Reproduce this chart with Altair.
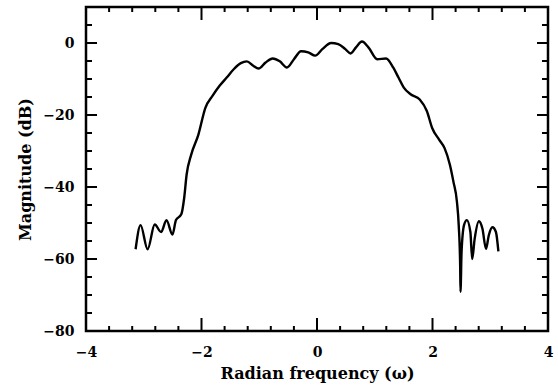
import altair as alt
import pandas as pd

# Curve samples (radian frequency, magnitude dB)
freq = [-3.141, -3.055, -2.933, -2.810, -2.699, -2.607, -2.503, -2.442, -2.350, -2.301,
        -2.258, -2.178, -2.055, -1.933, -1.810, -1.687, -1.564, -1.442, -1.319, -1.215,
        -1.104, -1.012, -0.890, -0.767, -0.644, -0.521, -0.399, -0.276, -0.153, -0.031,
        0.092, 0.245, 0.368, 0.491, 0.583, 0.675, 0.779, 0.890, 1.043, 1.196,
        1.319, 1.411, 1.503, 1.626, 1.779, 1.902, 1.994, 2.117, 2.209, 2.301,
        2.362, 2.423, 2.454, 2.479, 2.485, 2.503, 2.546, 2.595, 2.656, 2.687,
        2.730, 2.804, 2.865, 2.926, 2.975, 3.037, 3.098, 3.141]
mag = [-57.3, -50.6, -57.3, -50.4, -52.5, -49.2, -53.2, -49.2, -47.6, -43.2,
       -36.6, -31.0, -25.5, -18.0, -14.7, -11.9, -9.6, -7.3, -5.6, -5.1,
       -6.3, -7.1, -5.4, -4.3, -5.1, -6.8, -4.5, -2.3, -2.6, -3.5,
       -1.7, 0.0, -0.3, -1.7, -2.9, -1.2, 0.4, -1.2, -4.5, -4.3,
       -6.8, -9.6, -12.4, -14.3, -15.7, -18.9, -23.6, -26.9, -29.2, -33.8,
       -38.5, -44.1, -50.6, -61.8, -69.1, -58.1, -50.6, -49.2, -52.5, -60.0,
       -54.4, -49.5, -51.6, -57.2, -53.4, -51.2, -52.5, -57.9]

x_major = [-4, -2, 0, 2, 4]
x_minor = [-3.6, -3.2, -2.8, -2.4, -1.6, -1.2, -0.8, -0.4, 0.4, 0.8, 1.2, 1.6, 2.4, 2.8, 3.2, 3.6]
y_major = [-80, -60, -40, -20, 0]
y_minor = [-75, -70, -65, -55, -50, -45, -35, -30, -25, -15, -10, -5, 5]

W, H = 462, 324
FONT = "DejaVu Serif"

xscale = alt.Scale(domain=[-4, 4], nice=False, zero=False)
yscale = alt.Scale(domain=[-80, 10], nice=False, zero=False)

df = pd.DataFrame({"w": freq, "m": mag})

line = alt.Chart(df).mark_line(color="black", strokeWidth=2.4, interpolate="monotone").encode(
    x=alt.X("w:Q", scale=xscale,
            axis=alt.Axis(values=x_major, format="d", title="Radian frequency (ω)", grid=False,
                          ticks=False, domain=False, labelFont=FONT, labelFontWeight="bold",
                          labelFontSize=14, labelColor="black", labelPadding=14, titleFont=FONT,
                          titleFontWeight="bold", titleFontSize=16, titleColor="black",
                          titlePadding=6, labelFlush=False)),
    y=alt.Y("m:Q", scale=yscale,
            axis=alt.Axis(values=y_major, format="d", title="Magnitude (dB)", grid=False,
                          ticks=False, domain=False, labelFont=FONT, labelFontWeight="bold",
                          labelFontSize=14, labelColor="black", labelPadding=12, titleFont=FONT,
                          titleFontWeight="bold", titleFontSize=16, titleColor="black",
                          titlePadding=9, labelFlush=False)),
)


def xticks(vals, length):
    d = pd.DataFrame({"t": vals})
    bottom = alt.Chart(d).mark_rule(color="black", strokeWidth=2).encode(
        x=alt.X("t:Q", scale=xscale), y=alt.value(H), y2=alt.value(H - length))
    top = alt.Chart(d).mark_rule(color="black", strokeWidth=2).encode(
        x=alt.X("t:Q", scale=xscale), y=alt.value(0), y2=alt.value(length))
    return [bottom, top]


def yticks(vals, length):
    d = pd.DataFrame({"t": vals})
    left = alt.Chart(d).mark_rule(color="black", strokeWidth=2).encode(
        y=alt.Y("t:Q", scale=yscale), x=alt.value(0), x2=alt.value(length))
    right = alt.Chart(d).mark_rule(color="black", strokeWidth=2).encode(
        y=alt.Y("t:Q", scale=yscale), x=alt.value(W), x2=alt.value(W - length))
    return [left, right]


layers = [line] + xticks(x_major, 13) + xticks(x_minor, 5) + yticks(y_major, 11) + yticks(y_minor, 6)

chart = alt.layer(*layers).properties(
    width=W, height=H,
    autosize=alt.AutoSizeParams(type="none"),
    padding={"left": 86, "top": 7, "right": 10, "bottom": 60},
    background="white",
).configure_view(stroke="black", strokeWidth=2.5)

chart.save("out.html", embed_options={"renderer": "svg", "actions": False})
